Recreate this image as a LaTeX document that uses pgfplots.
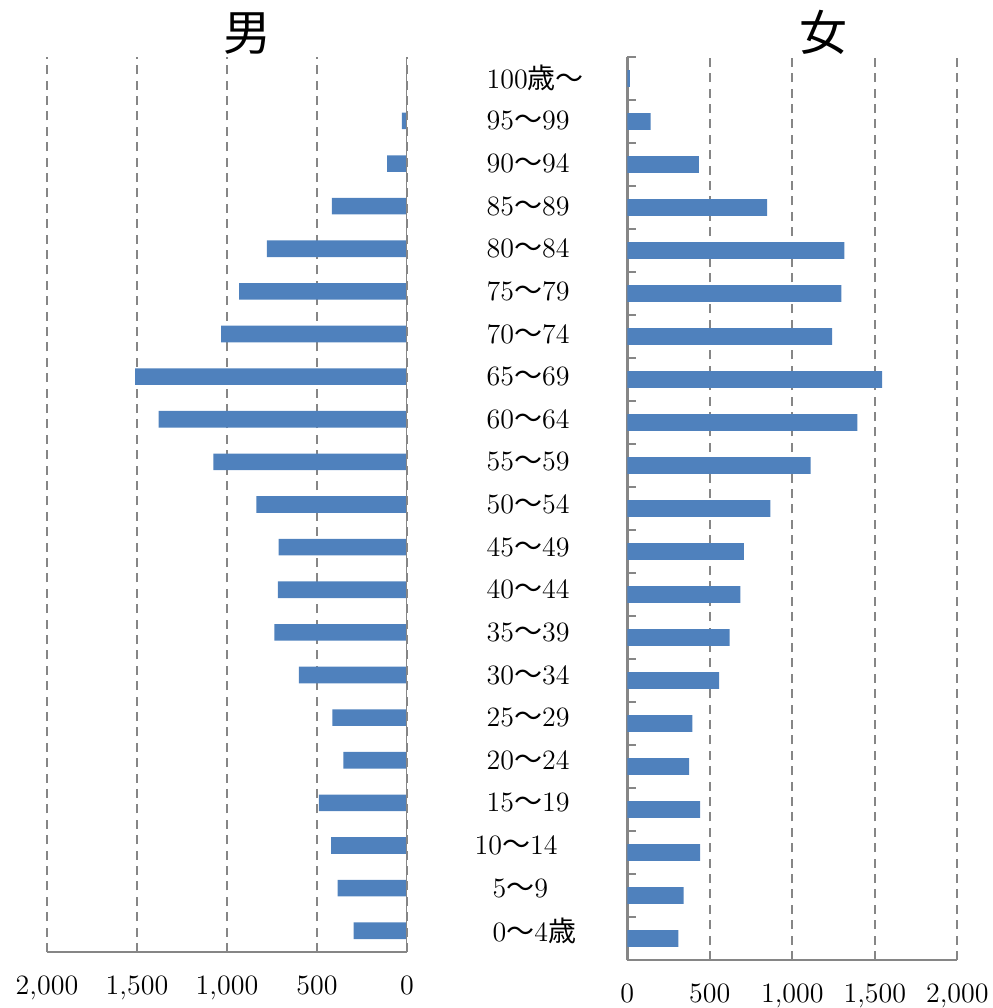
\documentclass[border=0pt]{standalone}
\usepackage{fontspec}
\usepackage{pgfplots}
\pgfplotsset{compat=1.18}
\usepackage{pgfplotstable}
\newfontfamily\cjk{Noto Sans CJK JP}
\definecolor{barblue}{RGB}{79,129,189}
\definecolor{axgray}{RGB}{134,134,134}

\pgfplotstableread{
y male female
0 296 309
1 385 342
2 422 442
3 489 441
4 354 374
5 415 394
6 600 556
7 737 620
8 717 685
9 713 707
10 837 867
11 1076 1111
12 1380 1394
13 1511 1545
14 1032 1241
15 932 1297
16 778 1315
17 417 847
18 111 434
19 28 142
20 0 15
}\pop

\begin{document}
\begin{tikzpicture}
\path[use as bounding box] (0,0) rectangle (496pt,-504pt);
\pgfplotsset{
 common/.style={
  scale only axis, anchor=north west,
  xbar, bar width=8.3pt,
  xmin=0, xmax=2000, ymin=-0.5, ymax=20.5,
  xtick={0,500,1000,1500,2000},
  xmajorgrids, major grid style={axgray, dash pattern=on 4.5pt off 3.2pt, line width=0.9pt},
  /pgf/number format/1000 sep={,},
  /pgf/number format/assume math mode=true,
  tick label style={font=\fontsize{14}{16}\selectfont},
  xticklabel style={yshift=-8.3pt},
  title style={font=\fontsize{24}{28}\selectfont\cjk, anchor=base, yshift=-2.5pt},
 }
}
\begin{axis}[common, at={(23.5pt,-28.5pt)}, width=180pt, height=447.5pt, x dir=reverse,
 axis line style={draw=none}, tick style={draw=none},
 ytick={0,...,20}, yticklabel pos=right,
 yticklabels={{\kern3pt 0{\cjk 〜}4{\cjk 歳}},{\kern3pt 5{\cjk 〜}9},{\kern-6pt 10{\cjk 〜}14},15{\cjk 〜}19,20{\cjk 〜}24,25{\cjk 〜}29,30{\cjk 〜}34,35{\cjk 〜}39,40{\cjk 〜}44,45{\cjk 〜}49,50{\cjk 〜}54,55{\cjk 〜}59,60{\cjk 〜}64,65{\cjk 〜}69,70{\cjk 〜}74,75{\cjk 〜}79,80{\cjk 〜}84,85{\cjk 〜}89,90{\cjk 〜}94,95{\cjk 〜}99,100{\cjk 歳〜}},
 yticklabel style={anchor=west, xshift=32pt},
 title={男}, title style={xshift=10.5pt}]
\addplot[fill=barblue, draw=none] table[x=male, y=y] {\pop};
\draw[axgray, line width=1.3pt] (axis cs:0,-0.5) -- (axis cs:0,20.5);
\draw[axgray, line width=1.3pt] (axis cs:2000,-0.5) -- (axis cs:0,-0.5);
\end{axis}
\begin{axis}[common, at={(313.65pt,-28.5pt)}, width=165pt, height=451.5pt,
 axis x line*=bottom, axis y line*=left, axis line style={axgray, line width=1.3pt},
 xtick style={draw=none},
 ytick={-0.5,0.5,...,20.5}, yticklabels={}, ytick style={axgray, line width=1.3pt},
 tick align=inside, major tick length=4.5pt,
 title={女}, title style={xshift=15.35pt}]
\addplot[fill=barblue, draw=none] table[x=female, y=y] {\pop};
\end{axis}
\end{tikzpicture}
\end{document}
